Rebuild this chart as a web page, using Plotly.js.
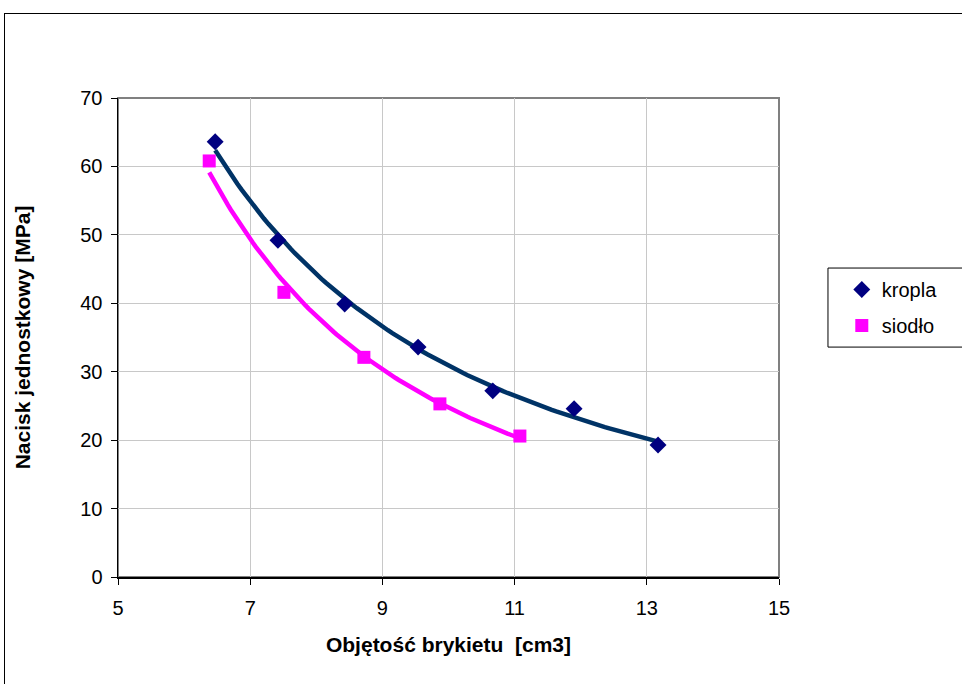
<!DOCTYPE html>
<html>
<head>
<meta charset="utf-8">
<script src="https://cdn.plot.ly/plotly-3.0.1.min.js"></script>
<style>
html,body{margin:0;padding:0;background:#fff;overflow:hidden;}
#frame{position:absolute;left:4px;top:13px;width:1100px;height:800px;border:1px solid #000;box-sizing:border-box;}
#chart{position:absolute;left:0;top:0;width:962px;height:684px;}
</style>
</head>
<body>
<div id="frame"></div>
<div id="chart"></div>
<script>
// Data
const kroplaX = [6.47, 7.42, 8.43, 9.54, 10.67, 11.90, 13.17];
const kroplaY = [63.6, 49.2, 39.9, 33.6, 27.2, 24.6, 19.3];
const siodloX = [6.38, 7.51, 8.72, 9.87, 11.08];
const siodloY = [60.8, 41.6, 32.1, 25.3, 20.6];
const xTicks = [5, 7, 9, 11, 13, 15];
const yTicks = [0, 10, 20, 30, 40, 50, 60, 70];

// Power trend line (least squares on log-log), like Excel's power trendline
function powerTrend(xs, ys, n) {
  const lx = xs.map(Math.log), ly = ys.map(Math.log);
  const m = xs.length;
  const mx = lx.reduce((a, b) => a + b, 0) / m;
  const my = ly.reduce((a, b) => a + b, 0) / m;
  let sxy = 0, sxx = 0;
  for (let i = 0; i < m; i++) { sxy += (lx[i] - mx) * (ly[i] - my); sxx += (lx[i] - mx) ** 2; }
  const b = sxy / sxx, a = Math.exp(my - b * mx);
  const x0 = Math.min(...xs), x1 = Math.max(...xs);
  const tx = [], ty = [];
  for (let i = 0; i <= n; i++) { const x = x0 + (x1 - x0) * i / n; tx.push(x); ty.push(a * Math.pow(x, b)); }
  return {tx, ty};
}
const tk = powerTrend(kroplaX, kroplaY, 100);
const ts = powerTrend(siodloX, siodloY, 100);

const font = 'Liberation Sans, Arial, sans-serif';
const traces = [
  {x: tk.tx, y: tk.ty, mode: 'lines', line: {color: '#003366', width: 4.5}, showlegend: false, hoverinfo: 'skip'},
  {x: ts.tx, y: ts.ty, mode: 'lines', line: {color: '#FF00FF', width: 4.5}, showlegend: false, hoverinfo: 'skip'},
  {x: kroplaX, y: kroplaY, mode: 'markers', name: 'kropla', legendgroup: 'a',
   marker: {symbol: 'diamond', color: '#000080', size: 13}},
  {x: siodloX, y: siodloY, mode: 'markers', name: 'siodło', legendgroup: 'b',
   marker: {symbol: 'square', color: '#FF00FF', size: 13}}
];

const layout = {
  width: 962, height: 684,
  paper_bgcolor: 'rgba(0,0,0,0)', plot_bgcolor: '#fff',
  margin: {l: 118, r: 183, t: 98, b: 107, autoexpand: false},
  font: {family: font, size: 20, color: '#000'},
  xaxis: {
    range: [5, 15], tickvals: xTicks, ticktext: xTicks.map(String),
    showgrid: true, gridcolor: '#c8c8c8', gridwidth: 1,
    showline: true, linecolor: '#000', linewidth: 1.5,
    ticks: 'outside', ticklen: 6, tickcolor: '#000', zeroline: false,
    tickfont: {size: 20}, ticklabelstandoff: 6,
    title: {text: 'Objętość brykietu  [cm3]', font: {size: 21, weight: 'bold'}, standoff: 20}
  },
  yaxis: {
    range: [0, 70], tickvals: yTicks, ticktext: yTicks.map(String),
    showgrid: true, gridcolor: '#c8c8c8', gridwidth: 1,
    showline: true, linecolor: '#000', linewidth: 1.5,
    ticks: 'outside', ticklen: 6, tickcolor: '#000', zeroline: false,
    tickfont: {size: 20}, ticklabelstandoff: 4,
    title: {text: 'Nacisk jednostkowy [MPa]', font: {size: 21, weight: 'bold'}, standoff: 44}
  },
  shapes: [
    {type: 'rect', xref: 'paper', yref: 'paper', x0: 0, x1: 1, y0: 0, y1: 1,
     line: {color: '#808080', width: 2}, layer: 'below'},
    {type: 'rect', xref: 'paper', yref: 'paper', x0: 1.0741, x1: 1.4, y0: 0.480, y1: 0.645,
     line: {color: '#000', width: 1}, fillcolor: '#fff', layer: 'below'}
  ],
  legend: {
    x: 1.095, y: 0.641, xanchor: 'left', yanchor: 'top',
    bgcolor: 'rgba(0,0,0,0)', borderwidth: 0,
    font: {size: 20}, tracegroupgap: 7, itemwidth: 30,
    traceorder: 'grouped'
  }
};

Plotly.newPlot('chart', traces, layout, {displayModeBar: false, staticPlot: true});
</script>
</body>
</html>
